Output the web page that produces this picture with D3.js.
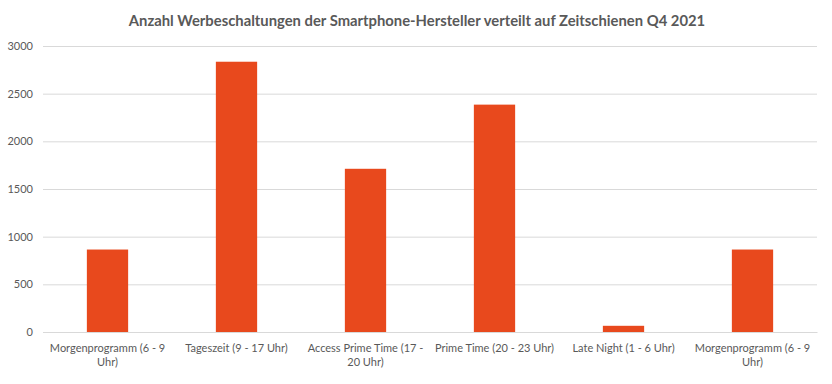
<!DOCTYPE html>
<html><head><meta charset="utf-8">
<script src="https://cdn.jsdelivr.net/npm/d3@7"></script>
<style>
body{margin:0;background:#fff;}
text{font-family:Lato,"Open Sans",sans-serif;}
</style></head>
<body><svg id="c" width="832" height="384"></svg>
<script>
const categories = ["Morgenprogramm (6 - 9 Uhr)","Tageszeit (9 - 17 Uhr)","Access Prime Time (17 - 20 Uhr)","Prime Time (20 - 23 Uhr)","Late Night (1 - 6 Uhr)","Morgenprogramm (6 - 9 Uhr)"];
const values = [865, 2835, 1712, 2385, 65, 865];
const yTicks = [0,500,1000,1500,2000,2500,3000];
const title = "Anzahl Werbeschaltungen der Smartphone-Hersteller verteilt auf Zeitschienen Q4 2021";

const svg = d3.select("#c");
const m = {l:43, r:15, t:46, b:52};
const W = 832, H = 384;
const x = d3.scaleBand().domain(d3.range(categories.length)).range([m.l, W-m.r]).paddingInner(0.68).paddingOuter(0.34);
const y = d3.scaleLinear().domain([0,3000]).range([H-m.b, m.t]);

svg.append("text").attr("x",417).attr("y",26).attr("text-anchor","middle")
  .attr("font-size",14.8).attr("font-weight","bold").attr("fill","#595959").text(title);

const ya = svg.append("g").attr("transform",`translate(${m.l},0)`)
  .call(d3.axisLeft(y).tickValues(yTicks).tickFormat(d3.format("d")).tickSize(-(W-m.l-m.r)).tickPadding(10));
ya.select(".domain").remove();
ya.selectAll(".tick line").attr("stroke","#d9d9d9");
ya.selectAll(".tick text").attr("fill","#595959").attr("font-size",11);

svg.append("g").selectAll("rect").data(values).join("rect")
  .attr("x",(d,i)=>x(i)).attr("width",x.bandwidth())
  .attr("y",d=>y(d)).attr("height",d=>y(0)-y(d)).attr("fill","#E8491D");

const xa = svg.append("g").attr("transform",`translate(0,${y(0)})`)
  .call(d3.axisBottom(d3.scaleBand().domain(d3.range(categories.length)).range([m.l,W-m.r])).tickSize(0).tickPadding(12).tickFormat(i=>categories[i]));
xa.select(".domain").attr("stroke","#d9d9d9");
xa.selectAll(".tick text").attr("fill","#595959").attr("font-size",11).each(function(){
  const t = d3.select(this), words = t.text().split(" ");
  t.text(null);
  let line=[], ts = t.append("tspan").attr("x",0).attr("dy","0.71em");
  for (const w of words){
    line.push(w); ts.text(line.join(" "));
    if (ts.node().getComputedTextLength() > 124 && line.length>1){
      line.pop(); ts.text(line.join(" ")); line=[w];
      ts = t.append("tspan").attr("x",0).attr("dy","1.25em").text(w);
    }
  }
});
</script></body></html>
